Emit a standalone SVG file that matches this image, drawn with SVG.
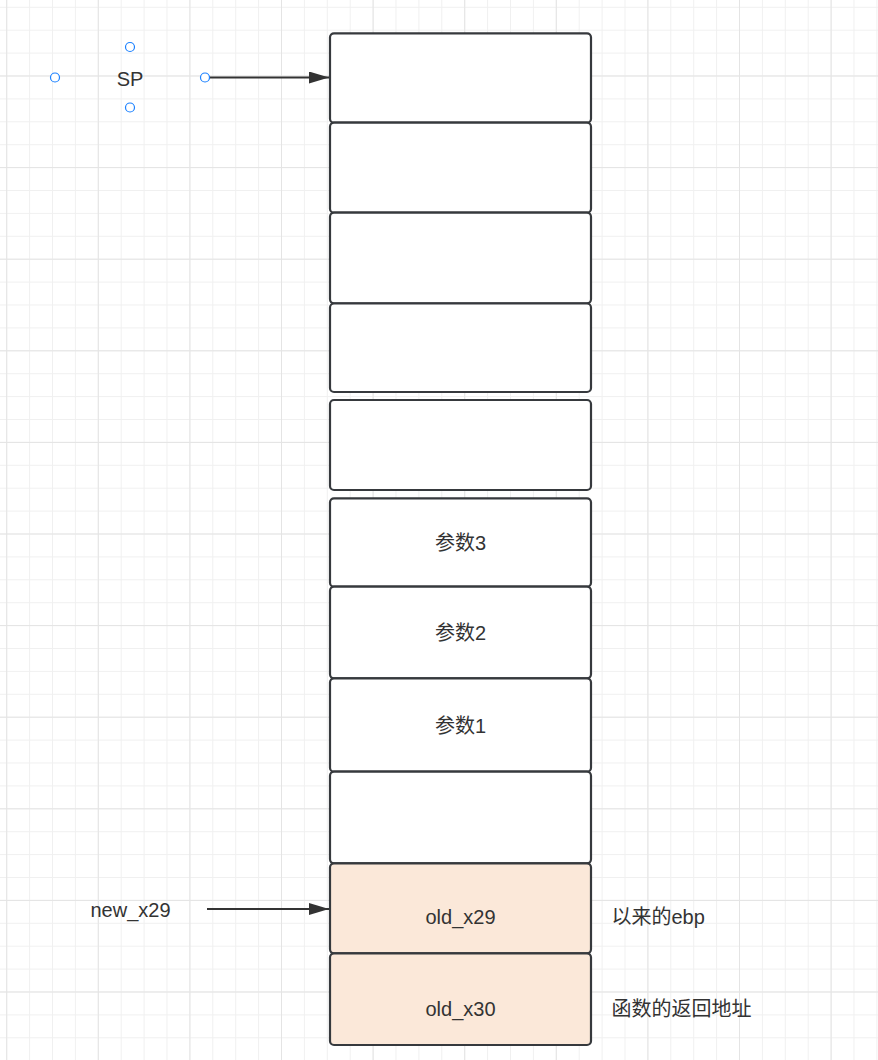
<svg xmlns="http://www.w3.org/2000/svg" width="878" height="1060" viewBox="0 0 878 1060">
<defs>
<pattern id="minor" patternUnits="userSpaceOnUse" x="6.2" y="6.8" width="22.9" height="22.9">
<path d="M0.5 0V22.9M0 0.5H22.9" stroke="#f0f0f0" stroke-width="1" fill="none"/>
</pattern>
<pattern id="major" patternUnits="userSpaceOnUse" x="6.2" y="-16.1" width="91.6" height="91.6">
<path d="M0.5 0V91.6M0 0.5H91.6" stroke="#e4e4e4" stroke-width="1" fill="none"/>
</pattern>
<marker id="arr" markerUnits="userSpaceOnUse" markerWidth="22" markerHeight="14" refX="20" refY="6" orient="auto">
<path d="M0 0L20 6L0 12Z" fill="#333333"/>
</marker>
</defs>
<style>
.box{fill:#ffffff;stroke:#36393d;stroke-width:2.2}
.peach{fill:#fbe8d9}
.t{font-family:"Liberation Sans","Noto Sans CJK SC",sans-serif;font-size:20px;fill:#333333;text-anchor:middle}
.tl{text-anchor:start}
.edge{stroke:#333333;stroke-width:2.2;fill:none}
.h{fill:#ffffff;stroke:#1a80ff;stroke-width:1.2}
</style>
<rect width="878" height="1060" fill="#ffffff"/>
<rect width="878" height="1060" fill="url(#minor)"/>
<rect width="878" height="1060" fill="url(#major)"/>
<g id="connectors">
<path class="edge" d="M205 77.5H329" marker-end="url(#arr)"/>
<path class="edge" d="M207 909H329" marker-end="url(#arr)"/>
</g>
<g id="sp">
<text class="t" x="130" y="86">SP</text>
<circle class="h" cx="130" cy="47" r="4.5"/>
<circle class="h" cx="55" cy="77.5" r="4.5"/>
<circle class="h" cx="130" cy="107.5" r="4.5"/>
<circle class="h" cx="205" cy="77.5" r="4.5"/>
</g>
<g id="new_x29"><text class="t" x="130.5" y="917">new_x29</text></g>
<g id="b1"><rect class="box" x="330" y="33.3" width="261" height="89.4" rx="4"/></g>
<g id="b2"><rect class="box" x="330" y="122.7" width="261" height="90" rx="4"/></g>
<g id="b3"><rect class="box" x="330" y="212.7" width="261" height="90.6" rx="4"/></g>
<g id="b4"><rect class="box" x="330" y="303.5" width="261" height="88.5" rx="4"/></g>
<g id="b5"><rect class="box" x="330" y="400" width="261" height="90" rx="4"/></g>
<g id="b6"><rect class="box" x="330" y="498.3" width="261" height="88.4" rx="4"/><text class="t" x="460.5" y="549.5">参数3</text></g>
<g id="b7"><rect class="box" x="330" y="586.7" width="261" height="91.6" rx="4"/><text class="t" x="460.5" y="639.5">参数2</text></g>
<g id="b8"><rect class="box" x="330" y="678.3" width="261" height="93.4" rx="4"/><text class="t" x="460.5" y="733">参数1</text></g>
<g id="b9"><rect class="box" x="330" y="771.7" width="261" height="91.6" rx="4"/></g>
<g id="b10"><rect class="box peach" x="330" y="863.3" width="261" height="90" rx="4"/><text class="t" x="460.5" y="923.5">old_x29</text></g>
<g id="b11"><rect class="box peach" x="330" y="953.3" width="261" height="91.7" rx="4"/><text class="t" x="460.5" y="1016">old_x30</text></g>
<g id="lbl1"><text class="t tl" x="611.5" y="924">以来的ebp</text></g>
<g id="lbl2"><text class="t tl" x="611.5" y="1016">函数的返回地址</text></g>
</svg>
